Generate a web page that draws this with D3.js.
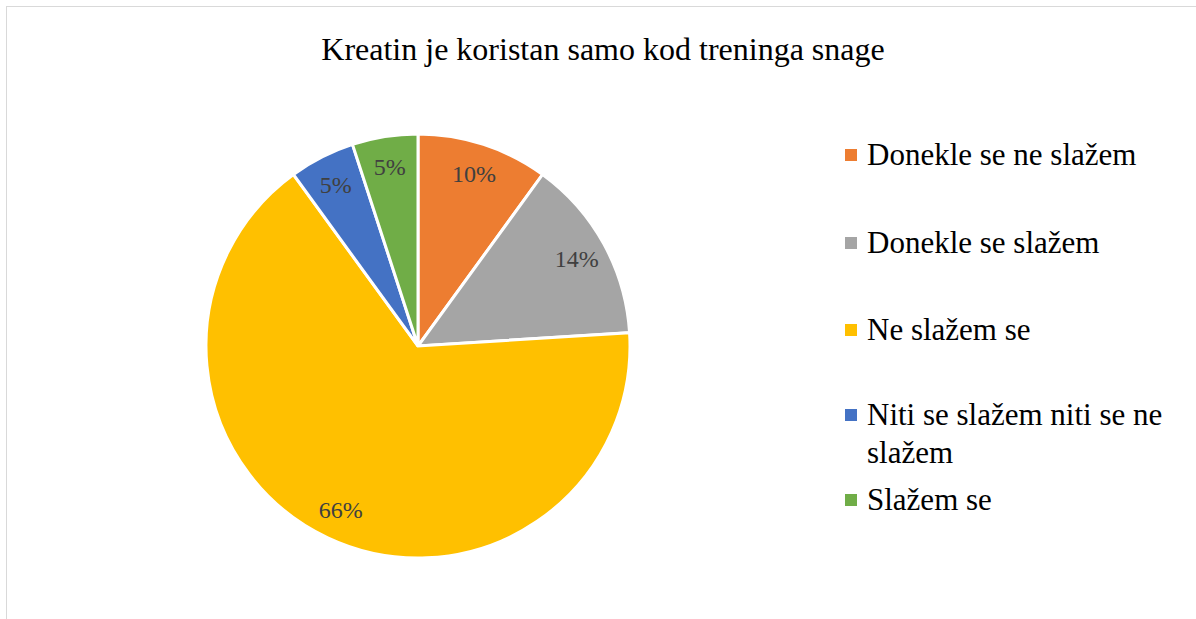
<!DOCTYPE html>
<html>
<head>
<meta charset="utf-8">
<script src="https://cdn.jsdelivr.net/npm/d3@7"></script>
<style>
  body { margin: 0; background: #fff; }
  svg { display: block; }
</style>
</head>
<body>
<div id="chart"></div>
<script>
var categories = ["Donekle se ne slažem", "Donekle se slažem", "Ne slažem se", "Niti se slažem niti se ne slažem", "Slažem se"];
var values = [10, 14, 66, 5, 5];
var colors = ["#ED7D31", "#A5A5A5", "#FFC000", "#4472C4", "#70AD47"];
var legendLines = [["Donekle se ne slažem"], ["Donekle se slažem"], ["Ne slažem se"], ["Niti se slažem niti se ne", "slažem"], ["Slažem se"]];

var width = 1196, height = 619;
var cx = 418, cy = 346, radius = 212;
var font = "'Liberation Serif', 'Times New Roman', serif";

var svg = d3.select("#chart").append("svg")
    .attr("width", width)
    .attr("height", height);

// chart area border
svg.append("rect")
    .attr("x", 6.5).attr("y", 6.5)
    .attr("width", width + 10).attr("height", height + 10)
    .attr("fill", "#fff")
    .attr("stroke", "#d9d9d9")
    .attr("stroke-width", 1);

svg.append("text")
    .attr("x", 603).attr("y", 60)
    .attr("text-anchor", "middle")
    .attr("font-family", font)
    .attr("font-size", 32)
    .attr("fill", "#000")
    .text("Kreatin je koristan samo kod treninga snage");

var data = categories.map(function(c, i) { return {name: c, value: values[i], color: colors[i]}; });
var total = d3.sum(values);

var pie = d3.pie().sort(null).value(function(d) { return d.value; });
var arc = d3.arc().innerRadius(0).outerRadius(radius);
var labelArc = d3.arc().innerRadius(radius * 0.855).outerRadius(radius * 0.855);

var g = svg.append("g").attr("transform", "translate(" + cx + "," + cy + ")");

var slices = g.selectAll(".slice")
    .data(pie(data))
    .enter().append("g")
    .attr("class", "slice");

slices.append("path")
    .attr("d", arc)
    .attr("fill", function(d) { return d.data.color; })
    .attr("stroke", "#fff")
    .attr("stroke-width", 3);

slices.append("text")
    .attr("transform", function(d) { return "translate(" + labelArc.centroid(d) + ")"; })
    .attr("dy", "0.35em")
    .attr("text-anchor", "middle")
    .attr("font-family", font)
    .attr("font-size", 24)
    .attr("fill", "#404040")
    .text(function(d) { return Math.round(d.data.value / total * 100) + "%"; });

// legend
var legendY = [155, 243, 330, 415, 500];
var legend = svg.selectAll(".legend")
    .data(data)
    .enter().append("g")
    .attr("class", "legend")
    .attr("transform", function(d, i) { return "translate(845," + legendY[i] + ")"; });

legend.append("rect")
    .attr("x", 0).attr("y", -6)
    .attr("width", 12).attr("height", 12)
    .attr("fill", function(d) { return d.color; });

legend.append("text")
    .attr("font-family", font)
    .attr("font-size", 31)
    .attr("fill", "#000")
    .selectAll("tspan")
    .data(function(d, i) { return legendLines[i]; })
    .enter().append("tspan")
    .attr("x", 22)
    .attr("y", function(d, j) { return 10 + j * 38; })
    .text(function(d) { return d; });
</script>
</body>
</html>
